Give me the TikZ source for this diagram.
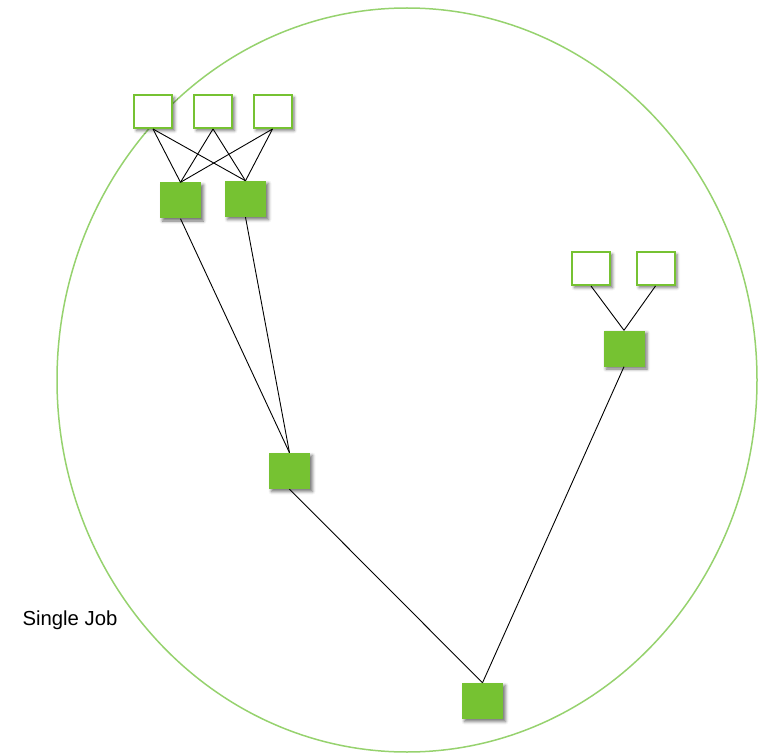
\documentclass[tikz,border=0pt]{standalone}
\usepackage{fontspec}
\setmainfont{Liberation Sans}
\usetikzlibrary{
    positioning,
    shapes.geometric,
    shadows.blur
}
\definecolor{jobgreen}{RGB}{118,194,50}
\definecolor{ringgreen}{RGB}{150,210,110}

\begin{document}
\begin{tikzpicture}[
    x=1pt, y=-1pt,
    input/.style={
        draw=jobgreen, line width=2pt, rectangle, fill=white,
        minimum width=38pt, minimum height=33pt, inner sep=0pt,
        blur shadow={shadow xshift=2.5pt, shadow yshift=-2.5pt, shadow blur radius=3pt, shadow opacity=55}
    },
    task/.style={
        rectangle, fill=jobgreen, minimum width=41pt, minimum height=36pt,
        inner sep=0pt,
        blur shadow={shadow xshift=2.5pt, shadow yshift=-2.5pt, shadow blur radius=3pt, shadow opacity=55}
    },
    job/.style={
        draw=ringgreen, line width=1.5pt, ellipse, inner sep=0pt,
        minimum width=700pt, minimum height=744pt
    },
    line/.style={black, line width=0.9pt}
]
\useasboundingbox (0,0) rectangle (758,754);

% ============================== JOB ==============================
\node[job] (single_job) at (407,380) {};
\node[font=\fontsize{20.3}{23}\selectfont] (job_text) at (70,620) {Single Job};

% LEFT BRANCH: inputs and first tasks
\node[input] (in_a) at (153,111.5) {};
\node[input] (in_b) at (213,111.5) {};
\node[input] (in_c) at (272.5,111.5) {};
\node[task] (map_a) at (180.5,200.5) {};
\node[task] (map_b) at (245.5,199) {};

% RIGHT BRANCH: inputs and first task
\node[input] (in_d) at (591,268.5) {};
\node[input] (in_e) at (655.5,268.5) {};
\node[task] (map_c) at (624,348.5) {};

% Merging tasks
\node[task] (merge_left) at (289.5,471) {};
\node[task] (merge_final) at (482.5,701) {};

% Data flow
\foreach \src in {in_a,in_b,in_c}
    \foreach \dst in {map_a,map_b}
        \draw[line] (\src.south) -- (\dst.north);
\draw[line] (in_d.south) -- (map_c.north);
\draw[line] (in_e.south) -- (map_c.north);
\draw[line] (map_a.south) -- (merge_left.north);
\draw[line] (map_b.south) -- (merge_left.north);
\draw[line] (merge_left.south) -- (merge_final.north);
\draw[line] (map_c.south) -- (merge_final.north);

\end{tikzpicture}
\end{document}
